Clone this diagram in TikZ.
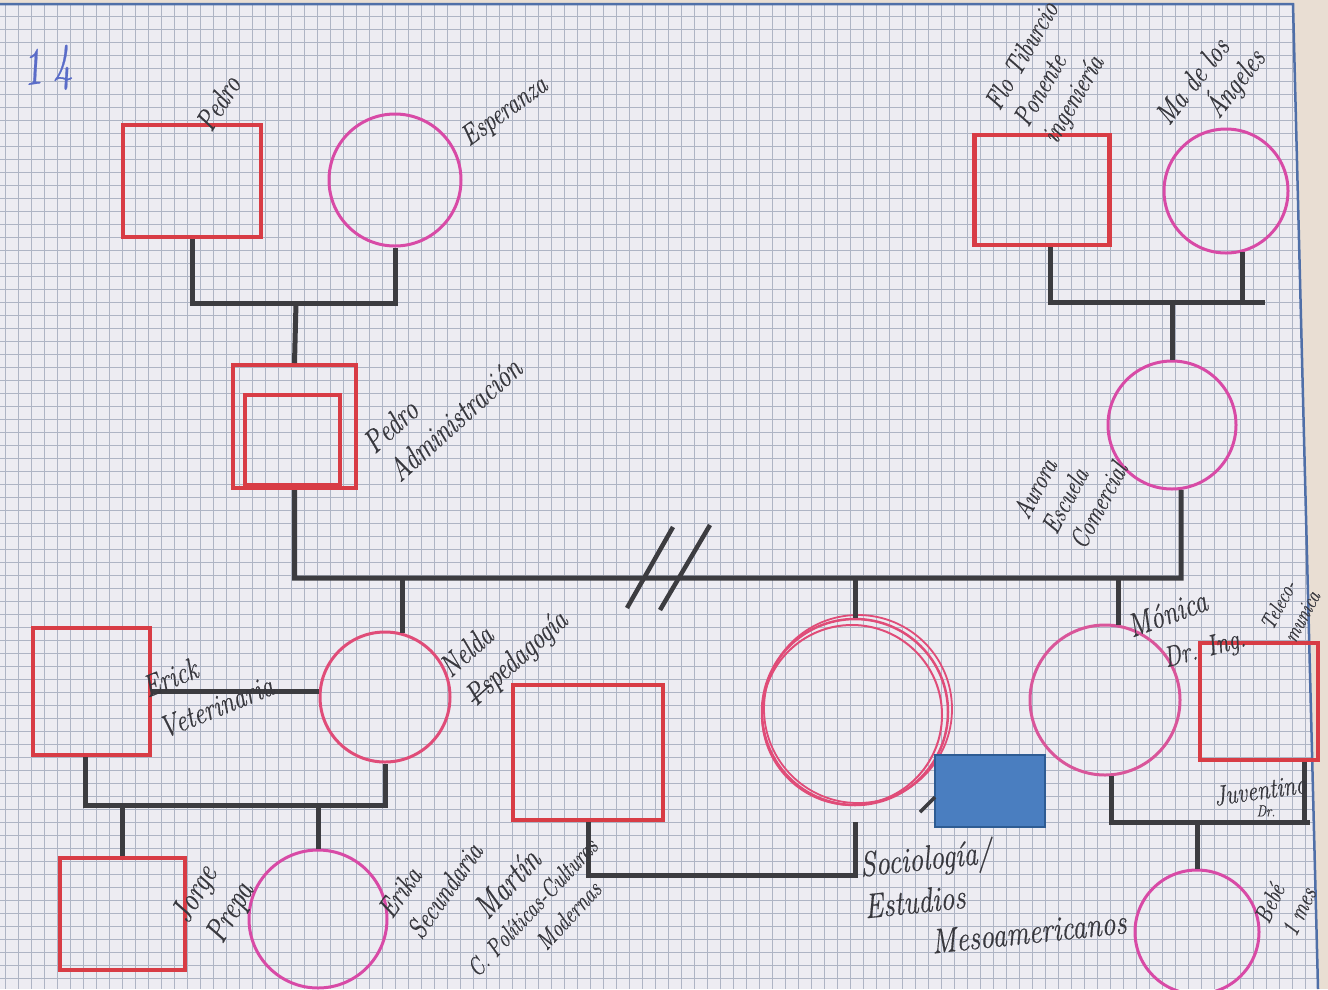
\documentclass[tikz,border=0pt]{standalone}
\usepackage{fontspec}
\newfontfamily\hand[FakeStretch=0.8,FakeBold=0.4]{Latin Modern Roman}
\newcommand\mystrk[1]{\setbox0=\hbox{#1}\rlap{\raisebox{0.45ex}{\rule{\wd0}{1.4pt}}}\box0}
\newcommand\hs[2]{\hand\itshape\fontsize{#1}{#2}\selectfont}
\definecolor{paper}{HTML}{EDECF2}
\definecolor{gridc}{HTML}{AEB4C4}
\definecolor{beige}{HTML}{E9DED3}
\definecolor{border}{HTML}{4F6FA8}
\definecolor{sqred}{HTML}{D83C45}
\definecolor{lnk}{HTML}{3C3C40}
\definecolor{ink}{HTML}{38383E}
\definecolor{magA}{HTML}{D84AA6}
\definecolor{magB}{HTML}{E04C78}
\definecolor{magC}{HTML}{D9559A}
\definecolor{boxfill}{HTML}{4A7EC0}
\definecolor{boxline}{HTML}{2E5C93}
\definecolor{bluepen}{HTML}{5A6CC8}
\begin{document}
\begin{tikzpicture}[x=1pt,y=-1pt,
  sq/.style={draw=sqred, line width=4.5pt, rectangle, inner sep=0pt},
  cir/.style={draw=#1, line width=3pt, circle, inner sep=0pt},
  link/.style={draw=lnk, line width=5pt},
  hw/.style={text=ink, font=\hs{27}{33}, align=left, inner sep=0pt},
  gl/.style={draw=gridc, line width=0.6pt}]
% paper
\fill[beige] (0,0) rectangle (1328,989);
\useasboundingbox (0,0) rectangle (1328,989);
\begin{scope}
\clip (0,4) -- (1293,4) -- (1318,989) -- (0,989) -- cycle;
\fill[paper] (0,0) rectangle (1328,989);
\foreach \i in {0,...,102} \draw[gl] (\i*13+5,0) -- (\i*13+5,989);
\foreach \j in {0,...,76} \draw[gl] (0,\j*13+3) -- (1328,\j*13+3);
\end{scope}
\draw[border, line width=2.5pt] (0,4) -- (1293,4) -- (1318,989);

% page number
\node[text=bluepen, font=\hs{52}{52}, rotate=8, inner sep=0pt] (num) at (47,70) {1\,4};

% generation 1
\node[sq, minimum width=138pt, minimum height=112pt] (pedro) at (192,181) {};
\node[cir=magA, minimum size=132pt] (esp) at (395,180) {};
\node[sq, minimum width=135pt, minimum height=110pt] (flo) at (1042,190) {};
\node[cir=magA, minimum size=124pt] (ma) at (1226,191) {};

% generation 2
\node[sq, line width=4pt, minimum width=123pt, minimum height=123pt] (pedroA) at (294.5,426.5) {};
\node[sq, line width=4pt, minimum width=95pt, minimum height=90pt] (pedroAin) at (292,440) {};
\node[cir=magA, minimum size=128pt] (aurora) at (1172,425) {};

% generation 3
\node[sq, minimum width=117pt, minimum height=127pt] (erick) at (91.5,691.5) {};
\node[cir=magB, minimum size=130pt] (nelda) at (385,697) {};
\node[sq, minimum width=150pt, minimum height=135pt] (martin) at (588,752.5) {};
\node[cir=magB, line width=2.5pt, minimum size=186pt] (bigc) at (855,712) {};
\draw[magB, line width=2pt] (852,715) circle[radius=90];
\draw[magB, line width=1.8pt] (858,709) circle[radius=94];
\node[cir=magC, minimum size=150pt] (mon) at (1105,700) {};
\node[sq, minimum width=118pt, minimum height=117pt] (juv) at (1259,701.5) {};

% generation 4
\node[sq, minimum width=125pt, minimum height=112pt] (jorge) at (122.5,914) {};
\node[cir=magA, minimum size=138pt] (erika) at (318,919) {};
\node[cir=magA, minimum size=124pt] (bebe) at (1197,932) {};

% hidden box
\node[draw=boxline, fill=boxfill, line width=1.5pt, minimum width=110pt, minimum height=72pt, inner sep=0pt] (hidden) at (990,791) {};

% coordinates
\coordinate (m1) at (296,303);
\coordinate (m2) at (1172,302);
\coordinate (ext) at (1265,302);
\coordinate (sr) at (1181,578);
\coordinate (c1) at (200,805);
\coordinate (c2) at (700,875);
\coordinate (bgb) at (855,822);
\coordinate (c3) at (1200,822);
\coordinate (c3e) at (1310,822);

% connectors
\draw[link] (pedro.south) |- (m1) -| (esp.south);
\draw[link] (m1) -- (pedroA.north);
\draw[link] ([xshift=8pt]flo.south) |- (ext);
\draw[link] (ma.-75) -- (ma.-75 |- ext);
\draw[link] (m2) -- (aurora.north);
\draw[link] (pedroA.south) |- (sr) -- (aurora.-82);
\draw[link] (nelda.75) -- (nelda.75 |- sr);
\draw[link] (bigc.north) -- (bigc.north |- sr);
\draw[link] (mon.80) -- (mon.80 |- sr);
\draw[link] (erick.east) -- (erick.east -| nelda.west);
\draw[link] ([xshift=-6pt]erick.south) |- (c1) -| (nelda.south);
\draw[link] (jorge.north) -- (jorge.north |- c1);
\draw[link] (erika.north) -- (erika.north |- c1);
\draw[link] (martin.south) |- (c2) -| (bgb);
\draw[link] (mon.-85) |- (c3e);
\draw[link] ([xshift=-16pt]juv.south east) -- ([xshift=-16pt]juv.south east |- c3);
\draw[link] (bebe.north) -- (bebe.north |- c3);

% break marks
\draw[link, line width=4.5pt] (627,608) -- (673,527);
\draw[link, line width=4.5pt] (660,610) -- (710,525);
\draw[link, line width=3.5pt] (920,812) -- (935,797);

% labels
\node[hw, font=\hs{30}{36}, rotate=58] (tPedro) at (218,103) {Pedro};
\node[hw, font=\hs{29}{35}, rotate=36] (tEsp) at (505,112) {Esperanza};
\node[hw, font=\hs{32}{38}, rotate=42] (tPA) at (442,405) {Pedro\\Administración};
\node[hw, font=\hs{28}{33}, rotate=60] (tFlo) at (1052,73) {Flo Tiburcio\\Ponente\\ingeniería};
\node[hw, font=\hs{30}{35}, rotate=52] (tMa) at (1212,88) {Ma de los\\\hspace{1.2em}Ángeles};
\node[hw, font=\hs{27}{32}, rotate=62] (tAur) at (1070,490) {Aurora\\Escuela\\Comercial};
\node[hw, font=\hs{31}{44}, rotate=22] (tErick) at (208,686) {Erick\\Veterinaria};
\node[hw, font=\hs{31}{38}, rotate=42] (tNelda) at (505,645) {Nelda\\\mystrk{Ps}pedagogía};
\node[hw, font=\hs{33}{40}, rotate=60] (tJorge) at (214,903) {Jorge\\Prepa};
\node[hw, font=\hs{29}{36}, rotate=55] (tErika) at (430,880) {Erika\\Secundaria};
\node[hw, font=\hs{25}{32}, rotate=47, align=center] (tMartin) at (530,905) {{\hs{34}{34}Martín}\\C. Políticas-Culturas\\\hspace{1.5em}Modernas};
\node[hw, font=\hs{35}{42}, rotate=6] (tSoc) at (993,892) {Sociología/\\Estudios\\\hspace{1.8em}Mesoamericanos};
\node[hw, font=\hs{33}{33}, rotate=20] (tMon) at (1167,613) {Mónica};
\node[hw, font=\hs{29}{29}, rotate=15] (tDr) at (1205,650) {Dr. Ing.};
\node[hw, font=\hs{22}{26}, rotate=62] (tTel) at (1290,610) {Teleco-\\munica};
\node[hw, font=\hs{28}{28}, rotate=8] (tJuv) at (1260,790) {Juventino};
\node[hw, font=\hs{16}{16}] (tJdr) at (1266,811) {Dr.};
\node[hw, font=\hs{25}{30}, rotate=65] (tBebe) at (1285,905) {Bebé\\1 mes};
\end{tikzpicture}
\end{document}
